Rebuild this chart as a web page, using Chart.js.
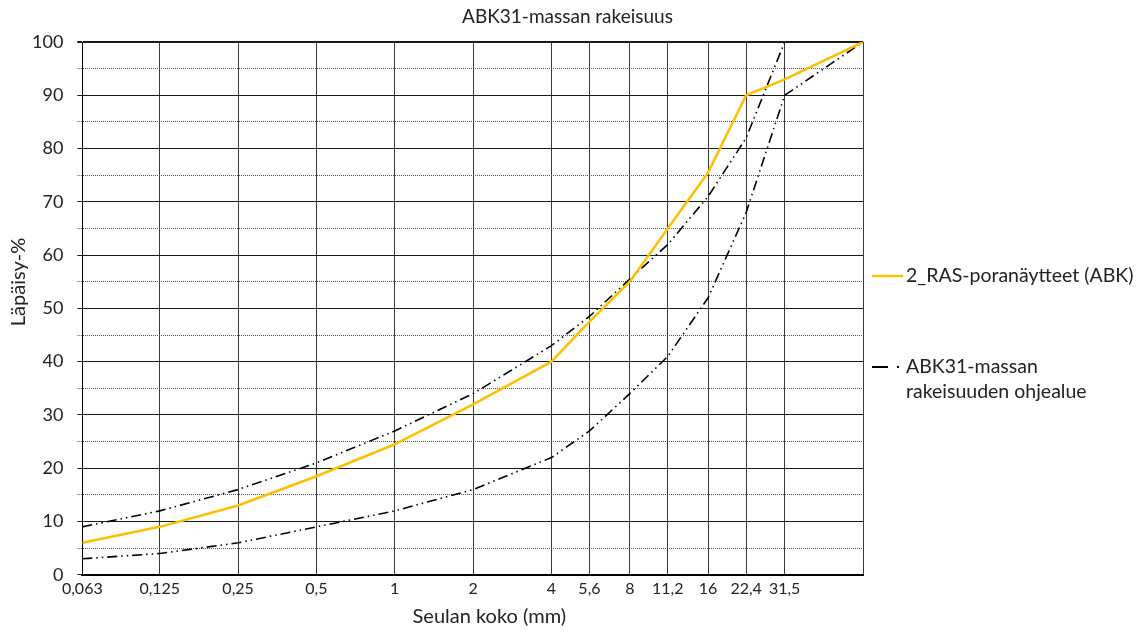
<!DOCTYPE html>
<html><head><meta charset="utf-8"><title>ABK31-massan rakeisuus</title>
<script src="https://cdn.jsdelivr.net/npm/chart.js"></script>
<style>
  html, body { margin: 0; padding: 0; background: #ffffff; }
  #wrap { position: relative; width: 1141px; height: 631px; }
</style>
</head>
<body>
<div id="wrap"><canvas id="chart"></canvas></div>
<script>
const chartTitle = "ABK31-massan rakeisuus";
const xTitle = "Seulan koko (mm)";
const yTitle = "Läpäisy-%";

// seulakoot (mm) ja akselin merkinnät
const sieveSizes = [0.063, 0.125, 0.25, 0.5, 1, 2, 4, 5.6, 8, 11.2, 16, 22.4, 31.5, 63];
const xTickValues = [0.063, 0.125, 0.25, 0.5, 1, 2, 4, 5.6, 8, 11.2, 16, 22.4, 31.5, 63];
const xTickLabels = ["0,063", "0,125", "0,25", "0,5", "1", "2", "4", "5,6", "8", "11,2", "16", "22,4", "31,5", ""];

// läpäisyprosentit
const rasSamples = [6, 9, 13, 18.5, 24.5, 32, 40, 47.5, 55, 65, 75.5, 90, 93, 100];
const upperLimit = [9, 12, 16, 21, 27, 34, 43, 48.5, 55.5, 62, 71, 82, 100, null];
const lowerLimit = [3, 4, 6, 9, 12, 16, 22, 27, 34, 41, 52, 68, 90, 100];

const legendLabels = ["2_RAS-poranäytteet (ABK)", ["ABK31-massan", "rakeisuuden ohjealue"]];

const ORANGE = '#FFC000';
const TEXT = '#222222';
const FONT = 'Lato, "Open Sans", sans-serif';
const limitDash = [10, 4, 1.5, 4, 1.5, 4];

function points(values) {
  return sieveSizes.map((s, i) => ({ x: s, y: values[i] })).filter(p => p.y !== null);
}

// otsikot ja selite piirretään itse, jotta ne osuvat samoihin kohtiin kuin alkuperäisessä
const textPlugin = {
  id: 'textPlugin',
  afterDraw(chart) {
    const ctx = chart.ctx;
    const area = chart.chartArea;
    ctx.save();
    ctx.fillStyle = TEXT;
    ctx.textBaseline = 'middle';

    ctx.font = '19px ' + FONT;
    ctx.textAlign = 'center';
    ctx.fillText(chartTitle, chart.width / 2 - 3, 17);

    ctx.font = '20px ' + FONT;
    ctx.fillText(xTitle, area.left + 407, area.bottom + 42);

    ctx.save();
    ctx.translate(19, area.top + 240);
    ctx.rotate(-Math.PI / 2);
    ctx.fillText(yTitle, 0, 0);
    ctx.restore();

    // selite
    ctx.font = '19.5px ' + FONT;
    const lx = area.right + 9;
    ctx.textAlign = 'left';
    let y = area.top + 234;
    ctx.strokeStyle = ORANGE;
    ctx.lineWidth = 2.5;
    ctx.beginPath();
    ctx.moveTo(lx, y);
    ctx.lineTo(lx + 31, y);
    ctx.stroke();
    ctx.fillText(legendLabels[0], lx + 34, y);

    y = area.top + 325;
    ctx.strokeStyle = '#000000';
    ctx.lineWidth = 2;
    ctx.beginPath();
    ctx.moveTo(lx, y);
    ctx.lineTo(lx + 16, y);
    ctx.stroke();
    ctx.fillStyle = '#000000';
    ctx.fillRect(lx + 25, y - 1, 2, 2);
    ctx.fillStyle = TEXT;
    legendLabels[1].forEach((line, i) => ctx.fillText(line, lx + 34, y + i * 25));
    ctx.restore();
  }
};

new Chart(document.getElementById('chart'), {
  type: 'line',
  data: {
    datasets: [
      {
        label: legendLabels[0],
        data: points(rasSamples),
        borderColor: ORANGE,
        borderWidth: 2.5,
        pointRadius: 0,
        tension: 0
      },
      {
        label: 'ABK31 yläraja',
        data: points(upperLimit),
        borderColor: '#000000',
        borderWidth: 1.6,
        borderDash: limitDash,
        pointRadius: 0,
        tension: 0
      },
      {
        label: 'ABK31 alaraja',
        data: points(lowerLimit),
        borderColor: '#000000',
        borderWidth: 1.6,
        borderDash: limitDash,
        pointRadius: 0,
        tension: 0
      }
    ]
  },
  options: {
    responsive: true,
    maintainAspectRatio: false,
    animation: false,
    layout: { padding: { left: 18, right: 278, top: 42, bottom: 29 } },
    plugins: {
      legend: { display: false },
      title: { display: false },
      tooltip: { enabled: false }
    },
    scales: {
      x: {
        type: 'logarithmic',
        min: 0.063,
        max: 63,
        afterBuildTicks: scale => { scale.ticks = xTickValues.map(v => ({ value: v })); },
        ticks: {
          autoSkip: false,
          maxRotation: 0,
          minRotation: 0,
          padding: 4,
          color: TEXT,
          font: { family: FONT, size: 16 },
          callback: (value, index) => xTickLabels[index]
        },
        grid: { color: '#3a3a3a', lineWidth: 1, drawTicks: false },
        border: { color: '#000000', width: 2 }
      },
      y: {
        min: 0,
        max: 100,
        ticks: {
          stepSize: 5,
          autoSkip: false,
          padding: 14,
          color: TEXT,
          font: { family: FONT, size: 18 },
          callback: v => (v % 10 === 0 ? String(v) : '')
        },
        grid: {
          color: ctx => (ctx.tick && ctx.tick.value % 10 !== 0 ? '#555555' : '#1a1a1a'),
          lineWidth: ctx => (ctx.tick && ctx.tick.value === 100 ? 2 : 1),
          tickLength: 5,
          tickBorderDash: ctx => (ctx.tick && ctx.tick.value % 10 !== 0 ? [1, 1] : [])
        },
        border: {
          color: '#000000',
          width: 1,
          dash: ctx => (ctx.tick && ctx.tick.value % 10 !== 0 ? [1, 1] : [])
        }
      }
    }
  },
  plugins: [textPlugin]
});
</script>
</body></html>
